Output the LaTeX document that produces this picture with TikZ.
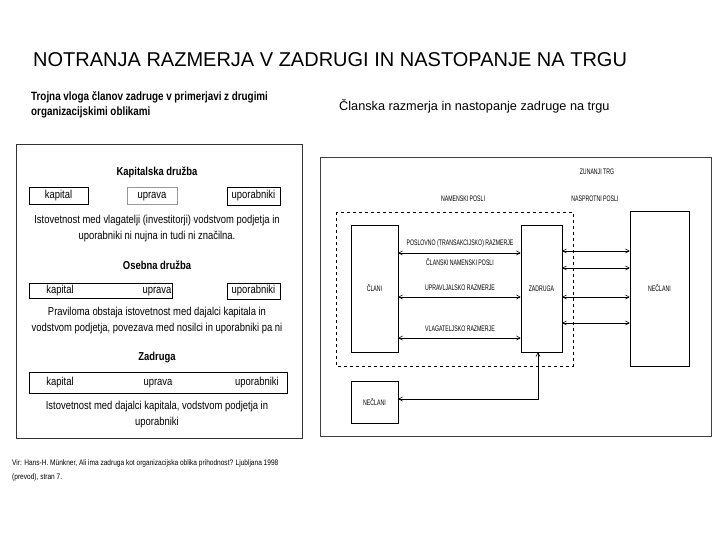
\documentclass[tikz,border=0pt]{standalone}
\usepackage{fontspec}
\setmainfont{Liberation Sans}
\newfontfamily\narrowfont[FakeStretch=0.82]{Liberation Sans}
\newfontfamily\tinyfont[FakeStretch=0.65]{Liberation Sans}
\usetikzlibrary{positioning,calc,arrows}

\tikzset{
	leftbox/.style={draw,inner sep=0pt,text height=8pt,text depth=2.5pt,font=\narrowfont\fontsize{11.5}{13}\selectfont},
	lefttext/.style={font=\narrowfont\fontsize{11.5}{16}\selectfont,align=center,inner sep=0pt},
	lefttitle/.style={font=\narrowfont\bfseries\fontsize{11.5}{13}\selectfont,inner sep=0pt},
	diabox/.style={draw,inner sep=0pt,line width=0.7pt,font=\tinyfont\fontsize{8}{9}\selectfont},
	dialabel/.style={font=\tinyfont\fontsize{8}{9}\selectfont,inner sep=0pt},
	rel/.style={<->,>=angle 60,line width=0.6pt},
}

\begin{document}
\begin{tikzpicture}[x=1pt,y=-1pt]
		\useasboundingbox[fill=white] (0,0) rectangle (720,540);
		\node[anchor=west,inner sep=0pt,font=\fontsize{20}{22}\selectfont] (title) at (33,60) {NOTRANJA RAZMERJA V ZADRUGI IN NASTOPANJE NA TRGU};

		% levi del
		\node[anchor=west,align=left,inner sep=0pt,font=\narrowfont\bfseries\fontsize{12}{15}\selectfont] (head) at (31,105) {Trojna vloga članov zadruge v primerjavi z drugimi\\organizacijskimi oblikami};
		\draw[line width=0.7pt,black!80] (16,144) rectangle (302,438);

		\node[lefttitle] (kd) at (157,172) {Kapitalska družba};
		\node[leftbox,minimum width=59pt,minimum height=17pt] (kap1) at (58.5,196) {kapital};
		\node[leftbox,minimum width=50pt,minimum height=17pt,draw=black!40] (upr1) at (152,196) {uprava};
		\node[leftbox,minimum width=53pt,minimum height=18pt] (upo1) at (253.5,196) {uporabniki};
		\node[lefttext] (t1) at (157,228.5) {Istovetnost med vlagatelji (investitorji) vodstvom podjetja in\\uporabniki ni nujna in tudi ni značilna.};

		\node[lefttitle] (od) at (157,265) {Osebna družba};
		\node[leftbox,minimum width=143pt,minimum height=15pt] (kapupr2) at (100.5,291) {};
		\node[leftbox,draw=none] (kap2) at (60,291) {kapital};
		\node[leftbox,draw=none] (upr2) at (157,291) {uprava};
		\node[leftbox,minimum width=53pt,minimum height=16pt] (upo2) at (253.5,291) {uporabniki};
		\node[lefttext] (t2) at (157,321) {Praviloma obstaja istovetnost med dajalci kapitala in\\vodstvom podjetja, povezava med nosilci in uporabniki pa ni};

		\node[lefttitle] (zd) at (157,358) {Zadruga};
		\node[leftbox,minimum width=258pt,minimum height=21pt] (vse3) at (158,382.5) {};
		\node[leftbox,draw=none] (kap3) at (60,382.5) {kapital};
		\node[leftbox,draw=none] (upr3) at (158,382.5) {uprava};
		\node[leftbox,draw=none] (upo3) at (257,382.5) {uporabniki};
		\node[lefttext] (t3) at (157,415) {Istovetnost med dajalci kapitala, vodstvom podjetja in\\uporabniki};

		\node[anchor=west,align=left,inner sep=0pt,font=\narrowfont\fontsize{8}{14}\selectfont] (vir) at (12,470) {Vir: Hans-H. Münkner, Ali ima zadruga kot organizacijska oblika prihodnost? Ljubljana 1998\\(prevod), stran 7.};

		% desni del
		\node[anchor=west,inner sep=0pt,font=\fontsize{12.7}{14}\selectfont] (rtitle) at (339,106) {Članska razmerja in nastopanje zadruge na trgu};
		\draw[line width=0.7pt,black!75] (320,157) rectangle (711,436);
		\draw[dashed,line width=0.8pt] (336,212) rectangle (573,366);

		\node[dialabel] (trg) at (597,172) {ZUNANJI TRG};
		\node[dialabel] (nam) at (463,199) {NAMENSKI POSLI};
		\node[dialabel] (nasp) at (595,199) {NASPROTNI POSLI};

		\node[diabox,minimum width=47pt,minimum height=127pt] (clani) at (374.5,288.5) {ČLANI};
		\node[diabox,minimum width=41pt,minimum height=127pt] (zadruga) at (541.5,288.5) {ZADRUGA};
		\node[diabox,minimum width=59pt,minimum height=155pt] (neclani) at (659.5,288.5) {NEČLANI};
		\node[diabox,minimum width=47pt,minimum height=42pt] (neclani2) at (374.5,402) {NEČLANI};

		\coordinate (r1) at (0,253);
		\coordinate (r2) at (0,297);
		\coordinate (r3) at (0,338);
		\draw[rel] (clani.east |- r1) -- (zadruga.west |- r1);
		\draw[rel] (clani.east |- r2) -- (zadruga.west |- r2);
		\draw[rel] (clani.east |- r3) -- (zadruga.west |- r3);
		\node[dialabel] (posl) at (460,243) {POSLOVNO (TRANSAKCIJSKO) RAZMERJE};
		\node[dialabel] (clnam) at (460,262) {ČLANSKI NAMENSKI POSLI};
		\node[dialabel] (uprr) at (460,288) {UPRAVLJALSKO RAZMERJE};
		\node[dialabel] (vlag) at (460,329) {VLAGATELJSKO RAZMERJE};

		\foreach \y in {251,268,297,323}
			\draw[rel] (zadruga.east |- 0,\y) -- (neclani.west |- 0,\y);

		\coordinate (v) at (538,399);
		\draw[rel] (zadruga.south -| v) -- (v) -- (neclani2.east |- v);
	\end{tikzpicture}
\end{document}
